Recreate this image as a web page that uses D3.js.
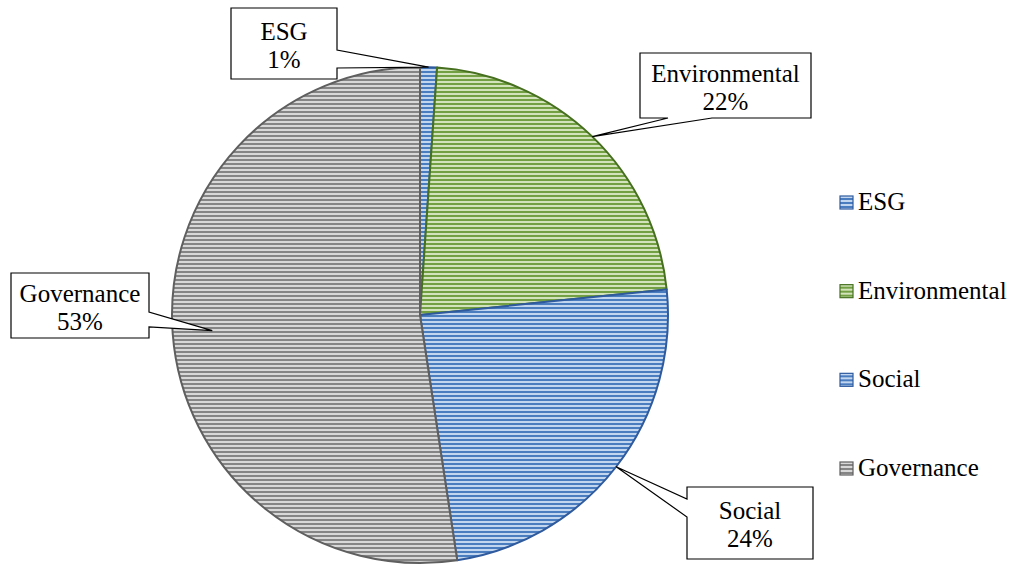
<!DOCTYPE html>
<html>
<head>
<meta charset="utf-8">
<script src="https://cdn.jsdelivr.net/npm/d3@7/dist/d3.min.js"></script>
<style>
  body { margin: 0; background: #fff; }
</style>
</head>
<body>
<div id="chart"></div>
<script>
// data
const categories = ["ESG", "Environmental", "Social", "Governance"];
const shares = [1.1, 22.3, 24.3, 52.5];

const width = 1013, height = 565;
const cx = 420, cy = 315, radius = 248;
const FONT = "'Liberation Serif', 'DejaVu Serif', serif";

// stripe colours per slice: [light, dark, outline]
const palette = {
  "ESG": ["#c3d6ef", "#4a7cc0", "#2f5b9e"],
  "Environmental": ["#d3e3bb", "#72a043", "#46701f"],
  "Social": ["#c3d6ef", "#4a7cc0", "#2f5b9e"],
  "Governance": ["#d8d8d8", "#858585", "#5f5f5f"]
};

let svg = d3.select("#chart")
  .append("svg")
  .attr("width", width)
  .attr("height", height)
  .style("font-family", FONT);

let defs = svg.append("defs");
categories.forEach((c, i) => {
  let p = defs.append("pattern")
    .attr("id", "stripe" + i)
    .attr("patternUnits", "userSpaceOnUse")
    .attr("width", 8)
    .attr("height", 4);
  p.append("rect").attr("width", 8).attr("height", 4).attr("fill", palette[c][0]);
  p.append("rect").attr("width", 8).attr("height", 2).attr("fill", palette[c][1]);
});

let pie = d3.pie().sort(null).value(d => d.v);
let arcs = pie(categories.map((c, i) => ({ name: c, v: shares[i], i: i })));

let arc = d3.arc().innerRadius(0).outerRadius(radius);

let g = svg.append("g").attr("transform", `translate(${cx}, ${cy})`);

g.selectAll("path")
  .data(arcs)
  .enter()
  .append("path")
  .attr("d", arc)
  .attr("fill", d => `url(#stripe${d.data.i})`)
  .attr("stroke", d => palette[d.data.name][2])
  .attr("stroke-width", 2)
  .attr("stroke-linejoin", "round");

// callout boxes: box rect, side of pointer, pointer base (two offsets along side), tip radius factor
const callouts = [
  { x: 231, y: 8, w: 106, h: 71, side: "right", b: [42, 60], rf: 1.0 },
  { x: 640, y: 53, w: 171, h: 65, side: "bottom", b: [28, 72], rf: 1.0 },
  { x: 687, y: 487, w: 126, h: 72, side: "left", b: [12, 30], rf: 1.0 },
  { x: 11, y: 273, w: 138, h: 65, side: "right", b: [39, 54], rf: 0.84 }
];

function calloutPath(c, tip) {
  let x0 = c.x, y0 = c.y, x1 = c.x + c.w, y1 = c.y + c.h;
  let pts;
  if (c.side === "right") {
    pts = [[x0, y0], [x1, y0], [x1, y0 + c.b[0]], tip, [x1, y0 + c.b[1]], [x1, y1], [x0, y1]];
  } else if (c.side === "left") {
    pts = [[x0, y0], [x1, y0], [x1, y1], [x0, y1], [x0, y0 + c.b[1]], tip, [x0, y0 + c.b[0]]];
  } else {
    pts = [[x0, y0], [x1, y0], [x1, y1], [x0 + c.b[1], y1], tip, [x0 + c.b[0], y1], [x0, y1]];
  }
  return "M" + pts.map(p => p.join(",")).join("L") + "Z";
}

let labels = svg.append("g");
arcs.forEach((a, i) => {
  let c = callouts[i];
  let mid = (a.startAngle + a.endAngle) / 2;
  let r = radius * c.rf;
  let tip = [cx + r * Math.sin(mid), cy - r * Math.cos(mid)];
  labels.append("path")
    .attr("d", calloutPath(c, tip))
    .attr("fill", "#fff")
    .attr("stroke", "#000")
    .attr("stroke-width", 1.2);
  let tx = c.x + c.w / 2;
  let ty = c.y + c.h / 2;
  labels.append("text")
    .attr("x", tx)
    .attr("y", ty - 4)
    .attr("text-anchor", "middle")
    .attr("font-family", FONT)
    .attr("font-size", 25)
    .text(a.data.name);
  labels.append("text")
    .attr("x", tx)
    .attr("y", ty + 24)
    .attr("text-anchor", "middle")
    .attr("font-family", FONT)
    .attr("font-size", 25)
    .text(Math.round(a.data.v) + "%");
});

// legend
let legend = svg.append("g");
let ly = d3.scalePoint().domain(categories).range([202, 468]);
let items = legend.selectAll("g")
  .data(categories)
  .enter()
  .append("g")
  .attr("transform", d => `translate(840, ${ly(d)})`);

items.append("rect")
  .attr("x", 0)
  .attr("y", -6)
  .attr("width", 13)
  .attr("height", 13)
  .attr("fill", (d, i) => `url(#stripe${i})`)
  .attr("stroke", d => palette[d][2])
  .attr("stroke-width", 1.2);

items.append("text")
  .attr("x", 18)
  .attr("y", 8)
  .attr("font-family", FONT)
  .attr("font-size", 25)
  .text(d => d);
</script>
</body>
</html>
